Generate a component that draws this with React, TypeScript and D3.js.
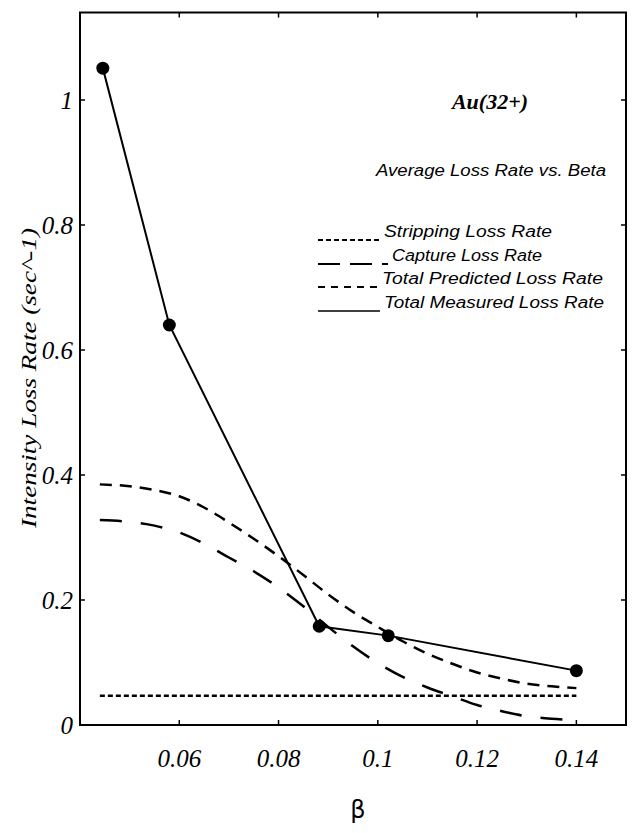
import React, { useRef, useEffect } from "react";
import * as d3 from "d3";

const WIDTH = 643;
const HEIGHT = 833;

// axis ticks
const xTicks = [0.06, 0.08, 0.1, 0.12, 0.14];
const xTickLabels = ["0.06", "0.08", "0.1", "0.12", "0.14"];
const yTicks = [0, 0.2, 0.4, 0.6, 0.8, 1];
const yTickLabels = ["0", "0.2", "0.4", "0.6", "0.8", "1"];

// measured loss rate (points joined by a solid line)
const measuredBeta = [0.0446, 0.058, 0.0882, 0.1021, 0.14];
const measuredLoss = [1.051, 0.64, 0.158, 0.143, 0.087];

// predicted curves
const curveBeta = [
  0.044, 0.05, 0.055, 0.06, 0.065, 0.07, 0.075, 0.08, 0.085, 0.09, 0.095,
  0.1, 0.105, 0.11, 0.115, 0.12, 0.125, 0.13, 0.135, 0.14,
];
const predictedLoss = [
  0.385, 0.382, 0.376, 0.366, 0.348, 0.324, 0.298, 0.27, 0.24, 0.209, 0.181,
  0.157, 0.134, 0.114, 0.098, 0.084, 0.074, 0.066, 0.062, 0.059,
];
const captureLoss = [
  0.328, 0.325, 0.319, 0.308, 0.29, 0.268, 0.246, 0.22, 0.19, 0.157, 0.126,
  0.099, 0.077, 0.06, 0.046, 0.032, 0.022, 0.014, 0.01, 0.008,
];
const strippingBeta = [0.044, 0.14];
const strippingLoss = [0.047, 0.047];

const legendLabels = [
  "Stripping Loss Rate",
  "Capture Loss Rate",
  "Total Predicted Loss Rate",
  "Total Measured Loss Rate",
];

function drawChart(svgEl: SVGSVGElement) {
  const svg = d3.select(svgEl);
  svg.selectAll("*").remove();

  const frame = { left: 80, right: 626, top: 12.5, bottom: 725 };

  const x = d3.scaleLinear().domain([0.04, 0.15]).range([frame.left, frame.right]);
  const y = d3.scaleLinear().domain([0, 1.14]).range([frame.bottom, frame.top]);

  svg
    .append("rect")
    .attr("width", WIDTH)
    .attr("height", HEIGHT)
    .attr("fill", "#fff");

  // frame
  svg
    .append("rect")
    .attr("x", frame.left)
    .attr("y", frame.top)
    .attr("width", frame.right - frame.left)
    .attr("height", frame.bottom - frame.top)
    .attr("fill", "none")
    .attr("stroke", "#000")
    .attr("stroke-width", 2);

  // inward ticks
  const ticks = svg.append("g").attr("stroke", "#000").attr("stroke-width", 1.5);
  yTicks.forEach((t) => {
    ticks.append("line").attr("x1", frame.left).attr("x2", frame.left + 5).attr("y1", y(t)).attr("y2", y(t));
    ticks.append("line").attr("x1", frame.right).attr("x2", frame.right - 5).attr("y1", y(t)).attr("y2", y(t));
  });
  xTicks.forEach((t) => {
    ticks.append("line").attr("x1", x(t)).attr("x2", x(t)).attr("y1", frame.bottom).attr("y2", frame.bottom - 5);
    ticks.append("line").attr("x1", x(t)).attr("x2", x(t)).attr("y1", frame.top).attr("y2", frame.top + 5);
  });

  const numFont = "'Liberation Serif', 'Times New Roman', serif";
  const sansFont = "'Liberation Sans', Arial, sans-serif";

  // tick labels
  svg
    .append("g")
    .selectAll("text")
    .data(yTicks)
    .join("text")
    .attr("x", 73)
    .attr("y", (d) => y(d))
    .attr("dy", "0.35em")
    .attr("text-anchor", "end")
    .attr("font-family", numFont)
    .attr("font-style", "italic")
    .attr("font-size", 25)
    .text((_, i) => yTickLabels[i]);

  svg
    .append("g")
    .selectAll("text")
    .data(xTicks)
    .join("text")
    .attr("x", (d) => x(d))
    .attr("y", 767)
    .attr("text-anchor", "middle")
    .attr("font-family", numFont)
    .attr("font-style", "italic")
    .attr("font-size", 25)
    .text((_, i) => xTickLabels[i]);

  // axis titles
  svg
    .append("text")
    .attr("transform", "translate(36,378) rotate(-90)")
    .attr("text-anchor", "middle")
    .attr("font-family", numFont)
    .attr("font-style", "italic")
    .attr("font-size", 22)
    .attr("textLength", 300)
    .attr("lengthAdjust", "spacingAndGlyphs")
    .text("Intensity Loss Rate (sec^-1)");

  svg
    .append("text")
    .attr("x", 358)
    .attr("y", 818)
    .attr("text-anchor", "middle")
    .attr("font-family", "'DejaVu Sans', sans-serif")
    .attr("font-size", 24)
    .text("β");

  // curves
  const curveLine = d3
    .line<number>()
    .x((_, i) => x(curveBeta[i]))
    .y((d) => y(d))
    .curve(d3.curveMonotoneX);

  svg
    .append("path")
    .attr("d", curveLine(predictedLoss))
    .attr("fill", "none")
    .attr("stroke", "#000")
    .attr("stroke-width", 2.5)
    .attr("stroke-dasharray", "12,8");

  svg
    .append("path")
    .attr("d", curveLine(captureLoss))
    .attr("fill", "none")
    .attr("stroke", "#000")
    .attr("stroke-width", 2.5)
    .attr("stroke-dasharray", "22,19");

  const stripLine = d3
    .line<number>()
    .x((_, i) => x(strippingBeta[i]))
    .y((d) => y(d));

  svg
    .append("path")
    .attr("d", stripLine(strippingLoss))
    .attr("fill", "none")
    .attr("stroke", "#000")
    .attr("stroke-width", 2.5)
    .attr("stroke-dasharray", "5,3");

  const measLine = d3
    .line<number>()
    .x((_, i) => x(measuredBeta[i]))
    .y((d) => y(d));

  svg
    .append("path")
    .attr("d", measLine(measuredLoss))
    .attr("fill", "none")
    .attr("stroke", "#000")
    .attr("stroke-width", 2);

  svg
    .append("g")
    .selectAll("circle")
    .data(measuredLoss)
    .join("circle")
    .attr("cx", (_, i) => x(measuredBeta[i]))
    .attr("cy", (d) => y(d))
    .attr("r", 6.5)
    .attr("fill", "#000");

  // title block
  svg
    .append("text")
    .attr("x", 490)
    .attr("y", 109)
    .attr("text-anchor", "middle")
    .attr("font-family", numFont)
    .attr("font-style", "italic")
    .attr("font-weight", "bold")
    .attr("font-size", 22)
    .text("Au(32+)");

  svg
    .append("text")
    .attr("x", 376)
    .attr("y", 176)
    .attr("font-family", sansFont)
    .attr("font-style", "italic")
    .attr("font-size", 16)
    .attr("textLength", 230)
    .attr("lengthAdjust", "spacingAndGlyphs")
    .text("Average Loss Rate vs. Beta");

  // legend
  const legendX = [384, 392, 382, 384];
  const legendW = [168, 150, 221, 220];
  const legendY = [237, 261, 284, 308];
  const legendDash = ["5,3", "22,10", "7,6", null];
  legendLabels.forEach((label, i) => {
    svg
      .append("text")
      .attr("x", legendX[i])
      .attr("y", legendY[i])
      .attr("font-family", sansFont)
      .attr("font-style", "italic")
      .attr("font-size", 16)
      .attr("textLength", legendW[i])
      .attr("lengthAdjust", "spacingAndGlyphs")
      .text(label);
    const ln = svg
      .append("line")
      .attr("x1", 318)
      .attr("x2", legendX[i] - 4)
      .attr("y1", legendY[i] + 3)
      .attr("y2", legendY[i] + 3)
      .attr("stroke", "#000")
      .attr("stroke-width", i === 3 ? 1.5 : 2);
    if (legendDash[i]) ln.attr("stroke-dasharray", legendDash[i] as string);
  });
}

const App: React.FunctionComponent = function () {
  const svgRef = useRef<SVGSVGElement>(null);

  useEffect(() => {
    if (svgRef.current == null) {
      return;
    }
    drawChart(svgRef.current);
  }, []);

  return (
    <svg
      ref={svgRef}
      width={WIDTH}
      height={HEIGHT}
      style={{ position: "absolute", left: 0, top: 0 }}
    ></svg>
  );
};

export default App;
